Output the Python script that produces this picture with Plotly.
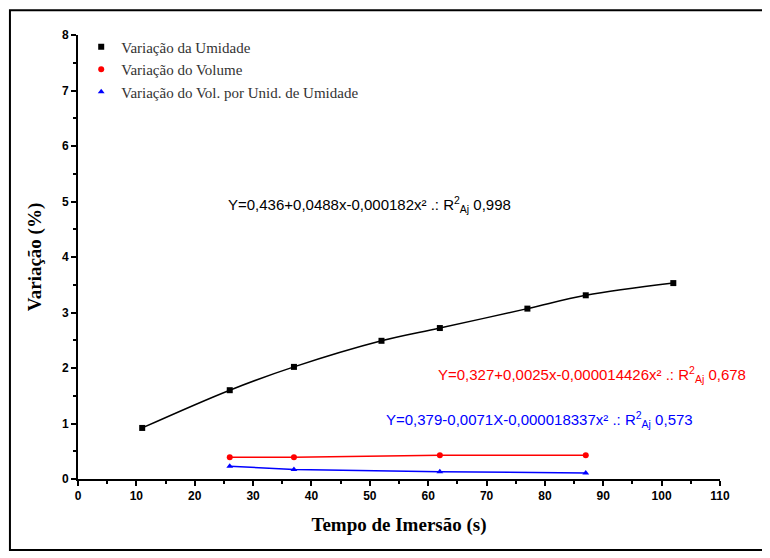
import plotly.graph_objects as go

x_um = [11, 26, 37, 52, 62, 77, 87, 102]
y_um = [0.92, 1.60, 2.02, 2.49, 2.72, 3.07, 3.31, 3.53]
x_vol = [26, 37, 62, 87]
y_vol = [0.39, 0.39, 0.43, 0.43]
x_vu = [26, 37, 62, 87]
y_vu = [0.23, 0.17, 0.13, 0.11]
names = ['Variação da Umidade', 'Variação do Volume', 'Variação do Vol. por Unid. de Umidade']

series = [(x_um, y_um, 'black', 'square', 'spline'), (x_vol, y_vol, 'red', 'circle', 'linear'),
          (x_vu, y_vu, 'blue', 'triangle-up', 'linear')]
fig = go.Figure()
for (xs, ys, c, sym, sh), n in zip(series, names):
    fig.add_trace(go.Scatter(x=xs, y=ys, mode='lines+markers', line=dict(color=c, width=1.5, shape=sh),
                             marker=dict(symbol=sym, size=6, color=c), showlegend=False))
for (xs, ys, c, sym, sh), n in zip(series, names):
    fig.add_trace(go.Scatter(x=[None], y=[None], mode='markers', marker=dict(symbol=sym, size=6, color=c), name=n))

axis_common = dict(showgrid=False, zeroline=False, showline=True, linecolor='black', linewidth=2,
                   ticks='outside', ticklen=5, tickwidth=1.5, tickcolor='black',
                   tickfont=dict(family='Arial, Liberation Sans', size=12, color='black', weight='bold'),
                   minor=dict(ticks='outside', ticklen=3, tickcolor='black'))
fig.update_xaxes(range=[0, 110], dtick=10, minor_dtick=5,
                 title=dict(text='<b>Tempo de Imersão (s)</b>', font=dict(family='Liberation Serif', size=19, color='black')),
                 **axis_common)
fig.update_yaxes(range=[0, 8], dtick=1, minor_dtick=0.5,
                 title=dict(text='<b>Variação (%)</b>', font=dict(family='Liberation Serif', size=19, color='black')),
                 **axis_common)

fig.add_annotation(x=50, y=4.95, xref='x', yref='y', showarrow=False,
                   text='Y=0,436+0,0488x-0,000182x² .: R<sup>2</sup><sub>Aj</sub> 0,998',
                   font=dict(family='Arial, Liberation Sans', size=15, color='black'))
fig.add_annotation(x=88, y=1.88, xref='x', yref='y', showarrow=False,
                   text='Y=0,327+0,0025x-0,000014426x² .: R<sup>2</sup><sub>Aj</sub> 0,678',
                   font=dict(family='Arial, Liberation Sans', size=15, color='red'))
fig.add_annotation(x=79, y=1.08, xref='x', yref='y', showarrow=False,
                   text='Y=0,379-0,0071X-0,000018337x² .: R<sup>2</sup><sub>Aj</sub> 0,573',
                   font=dict(family='Arial, Liberation Sans', size=15, color='blue'))

fig.add_shape(type='rect', xref='paper', yref='paper', x0=-0.106, x1=1.07, y0=-0.16, y1=1.056,
              line=dict(color='black', width=2))

fig.update_layout(width=770, height=558, plot_bgcolor='white', paper_bgcolor='white',
                  margin=dict(l=70, r=58, t=27, b=87, autoexpand=False),
                  legend=dict(x=0.005, y=1.01, xanchor='left', yanchor='top', bgcolor='rgba(0,0,0,0)',
                              font=dict(family='Liberation Serif', size=15, color='#333'), tracegroupgap=0))
fig.write_html('out.html')
